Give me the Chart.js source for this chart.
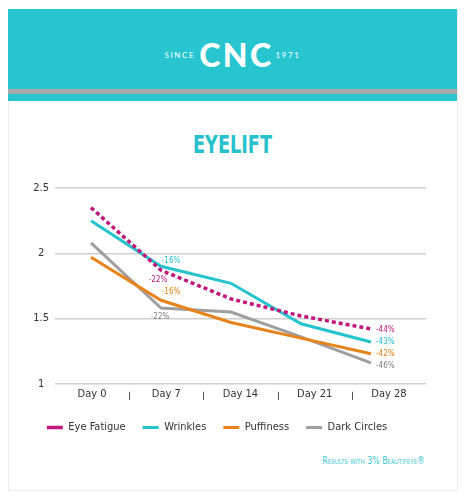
<!DOCTYPE html>
<html>
<head>
<meta charset="utf-8">
<script src="https://cdn.jsdelivr.net/npm/chart.js@4.4.0/dist/chart.umd.min.js"></script>
<style>
  html, body { margin: 0; padding: 0; background: #ffffff; }
  body { width: 465px; height: 500px; position: relative; overflow: hidden; font-family: "DejaVu Sans Condensed", "Liberation Sans Narrow", sans-serif; }
  .card { position: absolute; left: 8px; top: 9px; width: 448px; height: 480px; border: 1px solid #ececec; background: #fff; }
  .head { position: absolute; left: 8px; top: 9px; width: 449px; height: 92px; background: #27c5d0; }
  .stripe { position: absolute; left: 0; top: 80px; width: 100%; height: 5px; background: #a7a7a7; }
  .logo { position: absolute; left: 0; top: 26px; width: 100%; display: flex; justify-content: center; align-items: center; color: #fff; }
  .logo .sm { font-family: Lato, sans-serif; font-size: 8px; letter-spacing: 1.6px; }
  .logo .big { font-family: Lato, sans-serif; font-weight: 900; font-size: 32px; letter-spacing: 2.5px; margin: 0 2px 0 4px; }
  .title { position: absolute; left: 8px; width: 449px; top: 131px; text-align: center; color: #27c1cd; font-family: "DejaVu Sans Condensed", sans-serif; font-weight: bold; font-size: 24px; transform: scaleX(0.82); }
  .note { position: absolute; right: 40px; top: 455px; color: #3cc7d0; font-size: 10px; font-variant: small-caps; transform: scaleX(0.87); transform-origin: right center; }
  .wrap { position: absolute; left: 8px; top: 175px; width: 450px; height: 268px; }
</style>
</head>
<body>
<div class="card"></div>
<div class="head">
  <div class="logo"><span class="sm">SINCE</span><span class="big">CNC</span><span class="sm">1971</span></div>
  <div class="stripe"></div>
</div>
<div class="title">EYELIFT</div>
<div class="wrap"><canvas id="chartData"></canvas></div>
<div class="note">Results with 3% Beautifeye®</div>

<script>
    const dayLabels = ["Day 0", "Day 7", "Day 14", "Day 21", "Day 28"];
    const days = [0, 7, 14, 21, 28];
    const yTicks = [1, 1.5, 2, 2.5];

    const eyeFatigue = [2.35, 1.87, 1.65, 1.52, 1.42];
    const wrinkles = [2.25, 1.90, 1.77, 1.46, 1.32];
    const puffiness = [1.97, 1.64, 1.47, 1.35, 1.23];
    const darkCircles = [2.08, 1.58, 1.55, 1.36, 1.16];

    const seriesNames = ["Eye Fatigue", "Wrinkles", "Puffiness", "Dark Circles"];
    const day7Pct = ["-22%", "-16%", "-16%", "-22%"];
    const day28Pct = ["-44%", "-43%", "-42%", "-46%"];

    const font = '"DejaVu Sans Condensed", "Liberation Sans Narrow", sans-serif';

    const toPoints = vals => days.map((d, i) => ({ x: d, y: vals[i] }));

    // percentage labels next to Day 7 / Day 28 points, plus the little "|" separators
    const pctLabels = {
        id: "pctLabels",
        afterDatasetsDraw(chart) {
            const ctx = chart.ctx;
            const off7 = [[-3, 10], [10, -5], [10, -8], [-1, 9]];
            const off28 = [1, 0, 0, 3];
            const txtColors = ["#c0187c", "#22bfcb", "#e57f17", "#7d7d7d"];
            ctx.save();
            ctx.font = "8px " + font;
            ctx.textBaseline = "middle";
            chart.data.datasets.forEach((ds, i) => {
                const pts = chart.getDatasetMeta(i).data;
                ctx.fillStyle = txtColors[i];
                ctx.textAlign = "center";
                ctx.fillText(day7Pct[i], pts[1].x + off7[i][0], pts[1].y + off7[i][1]);
                ctx.textAlign = "left";
                ctx.fillText(day28Pct[i], pts[4].x + 5, pts[4].y + off28[i]);
            });

            const xl = chart.scales.xl;
            const b = chart.chartArea.bottom;
            ctx.strokeStyle = "#555";
            ctx.lineWidth = 1;
            for (let i = 0; i < dayLabels.length - 1; i++) {
                const x = Math.round((xl.getPixelForTick(i) + xl.getPixelForTick(i + 1)) / 2) + 0.5;
                ctx.beginPath();
                ctx.moveTo(x, b + 8);
                ctx.lineTo(x, b + 16);
                ctx.stroke();
            }
            ctx.restore();
        }
    };

    const ctx = document.getElementById("chartData");

    new Chart(ctx, {
        type: "line",
        data: {
            datasets: [{
                label: seriesNames[0],
                data: toPoints(eyeFatigue),
                borderColor: "#c2187d",
                backgroundColor: "#c2187d",
                borderWidth: 3.5,
                borderDash: [4, 3],
            }, {
                label: seriesNames[1],
                data: toPoints(wrinkles),
                borderColor: "#24c3ce",
                backgroundColor: "#24c3ce",
                borderWidth: 3,
            }, {
                label: seriesNames[2],
                data: toPoints(puffiness),
                borderColor: "#e8821b",
                backgroundColor: "#e8821b",
                borderWidth: 3,
            }, {
                label: seriesNames[3],
                data: toPoints(darkCircles),
                borderColor: "#9f9f9f",
                backgroundColor: "#9f9f9f",
                borderWidth: 3,
            }, ],
        },
        options: {
            animation: false,
            responsive: true,
            maintainAspectRatio: false,
            elements: { point: { radius: 0 }, line: { tension: 0 } },
            layout: { padding: { top: 13, right: 32, left: 0, bottom: 0 } },
            plugins: {
                tooltip: { enabled: false },
                legend: {
                    position: "bottom",
                    labels: {
                        usePointStyle: true,
                        pointStyle: "line",
                        pointStyleWidth: 16,
                        padding: 17,
                        color: "#333",
                        font: { family: font, size: 11 },
                    },
                },
            },
            scales: {
                x: { type: "linear", min: -3.6, max: 33.5, display: false },
                xl: {
                    type: "category",
                    position: "bottom",
                    labels: dayLabels,
                    offset: true,
                    grid: { display: false, drawTicks: false },
                    border: { display: false },
                    ticks: { padding: 4, color: "#333", font: { family: font, size: 11 } },
                },
                y: {
                    min: yTicks[0],
                    max: yTicks[yTicks.length - 1],
                    afterBuildTicks: s => { s.ticks = yTicks.map(v => ({ value: v })); },
                    afterFit: s => { s.width = 47; },
                    border: { display: false },
                    grid: { color: "#cfcfcf", lineWidth: 1.5, drawTicks: false },
                    ticks: {
                        padding: 6,
                        crossAlign: "center",
                        color: "#333",
                        font: { family: font, size: 11 },
                        callback: v => String(v),
                    },
                },
            },
        },
        plugins: [pctLabels],
    });
</script>
</body>
</html>
